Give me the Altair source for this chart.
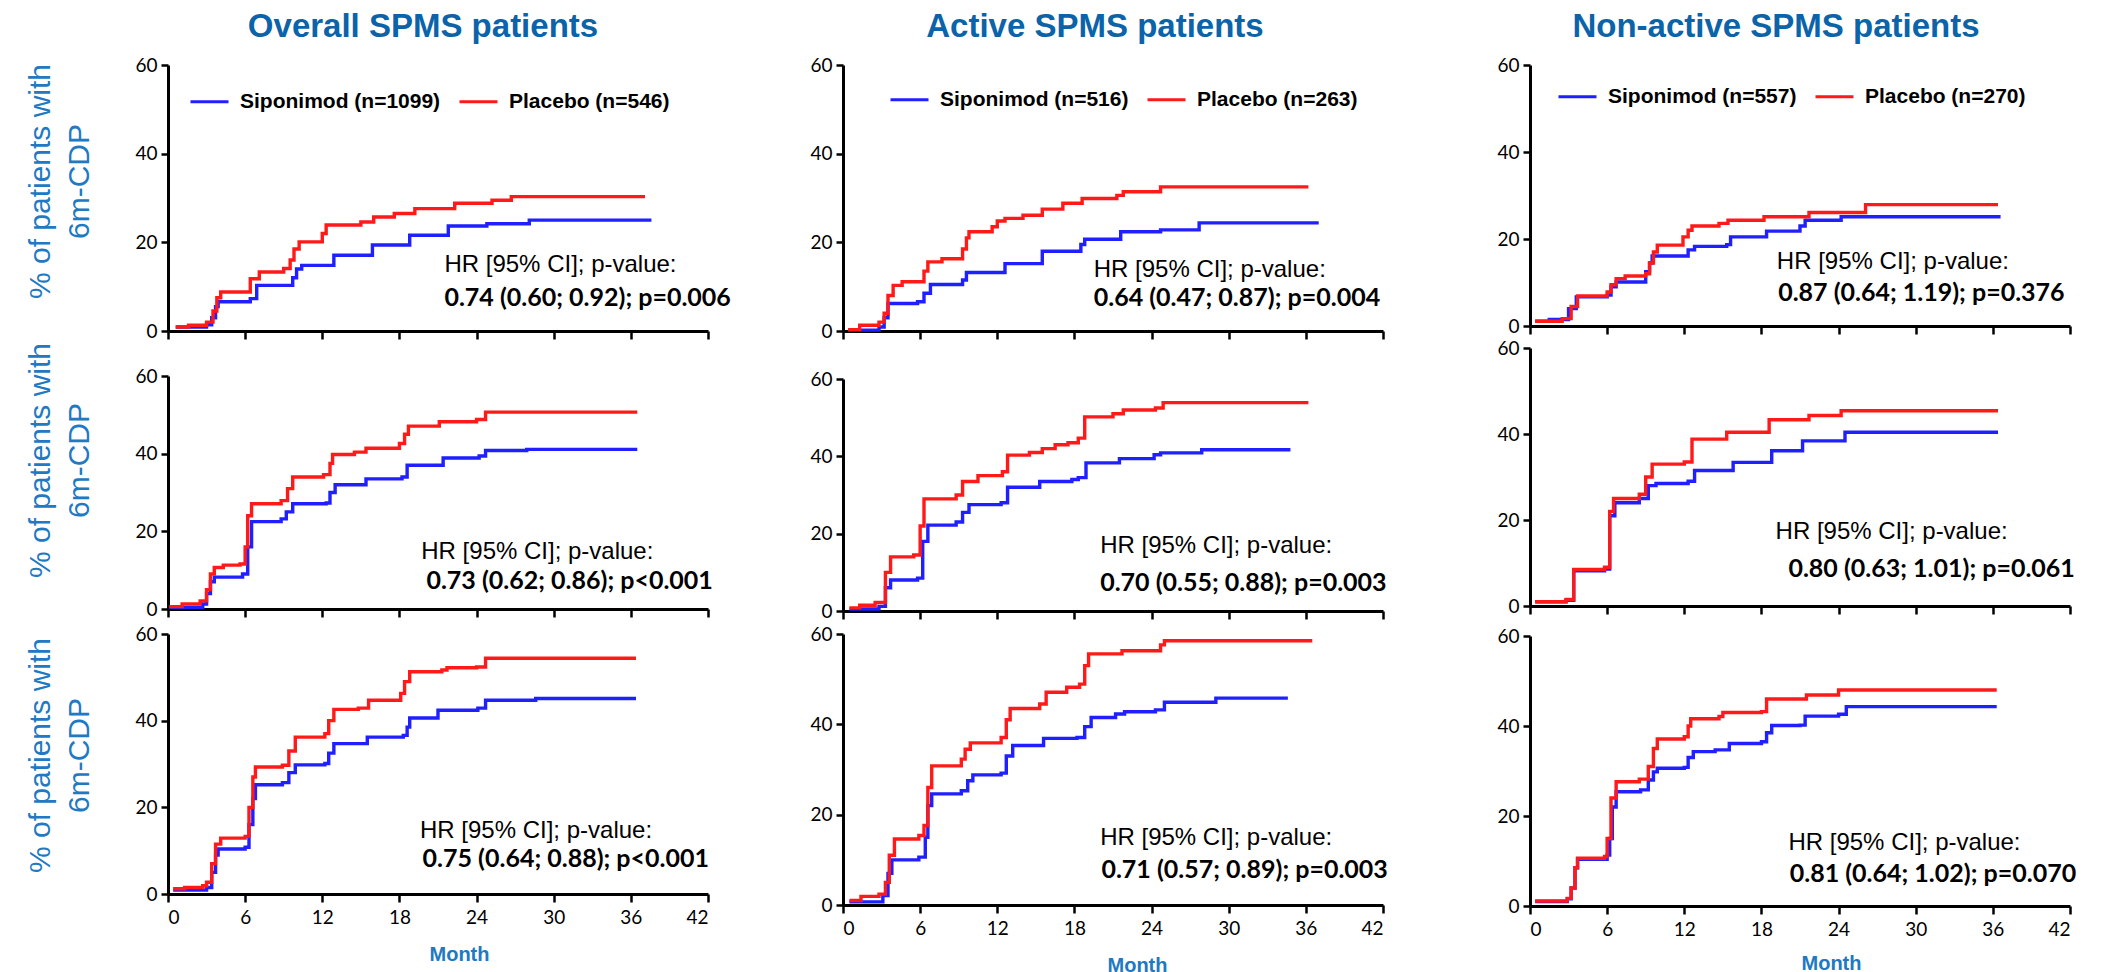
import altair as alt
import pandas as pd

# ---------------- data ----------------
col_titles = ["Overall SPMS patients", "Active SPMS patients", "Non-active SPMS patients"]
sip_labels = ["Siponimod (n=1099)", "Siponimod (n=516)", "Siponimod (n=557)"]
pla_labels = ["Placebo (n=546)", "Placebo (n=263)", "Placebo (n=270)"]
hr_header = "HR [95% CI]; p-value:"
hr_values = [
    ["0.74 (0.60; 0.92); p=0.006", "0.64 (0.47; 0.87); p=0.004", "0.87 (0.64; 1.19); p=0.376"],
    ["0.73 (0.62; 0.86); p<0.001", "0.70 (0.55; 0.88); p=0.003", "0.80 (0.63; 1.01); p=0.061"],
    ["0.75 (0.64; 0.88); p<0.001", "0.71 (0.57; 0.89); p=0.003", "0.81 (0.64; 1.02); p=0.070"],
]
month_ticks = [0, 6, 12, 18, 24, 30, 36, 42]
pct_ticks = [0, 20, 40, 60]

# row 1 (top), col 1 Overall
r1c1_pla_t = [0.6, 1.6, 3.0, 3.5, 3.8, 4.1, 6.4, 7.1, 9.0, 9.5, 9.8, 10.2, 12.0, 12.3, 15.0, 16.0, 17.6, 19.2, 22.3, 25.2, 26.7, 37.1]
r1c1_pla_v = [0.9, 1.3, 2.0, 4.5, 7.5, 8.8, 11.8, 13.3, 14.1, 16.0, 18.5, 20.1, 22.0, 23.9, 24.6, 25.7, 26.5, 27.6, 28.8, 29.5, 30.3, 30.3]
r1c1_sip_t = [0.6, 3.0, 3.4, 3.7, 3.9, 6.4, 6.9, 9.7, 10.0, 10.4, 12.9, 15.9, 18.8, 21.8, 24.8, 28.1, 37.6]
r1c1_sip_v = [0.9, 1.4, 3.0, 5.5, 6.6, 7.3, 10.3, 12.0, 14.0, 14.8, 17.1, 19.4, 21.6, 23.7, 24.2, 25.0, 25.0]
# row 1, col 2 Active
r1c2_pla_t = [0.4, 1.3, 2.8, 3.2, 3.5, 3.9, 4.6, 6.3, 6.6, 7.7, 9.3, 9.6, 9.8, 11.6, 12.0, 12.6, 14.0, 15.5, 17.1, 18.6, 21.3, 21.8, 24.7, 36.2]
r1c2_pla_v = [0.3, 1.3, 2.0, 4.0, 8.0, 10.3, 11.1, 13.5, 15.6, 16.3, 18.5, 21.0, 22.4, 23.5, 24.8, 25.4, 26.1, 27.5, 28.8, 29.9, 30.6, 31.4, 32.5, 32.5]
r1c2_sip_t = [0.4, 2.8, 3.2, 3.5, 5.8, 6.3, 6.8, 9.3, 9.6, 12.6, 15.5, 18.5, 18.8, 21.6, 24.7, 27.7, 37.0]
r1c2_sip_v = [0.2, 0.9, 3.0, 6.2, 6.6, 8.5, 10.5, 11.5, 13.2, 15.2, 18.0, 19.5, 20.7, 22.4, 22.8, 24.4, 24.4]
# row 1, col 3 Non-active
r1c3_pla_t = [0.4, 2.5, 3.2, 3.7, 6.0, 6.3, 6.7, 7.4, 9.0, 9.3, 9.6, 9.9, 11.9, 12.3, 12.6, 14.7, 15.4, 18.2, 21.7, 26.1, 36.4]
r1c3_pla_v = [1.1, 1.7, 4.5, 6.9, 7.8, 9.5, 10.9, 11.5, 12.0, 14.5, 17.0, 18.6, 20.5, 22.0, 23.0, 23.6, 24.3, 25.1, 26.1, 27.9, 27.9]
r1c3_sip_t = [0.4, 1.5, 3.0, 3.6, 6.0, 6.3, 6.7, 9.0, 9.3, 9.5, 12.3, 12.8, 15.3, 15.6, 18.4, 21.0, 21.4, 24.2, 36.6]
r1c3_sip_v = [1.1, 1.5, 4.0, 6.7, 7.1, 9.0, 10.1, 12.5, 14.5, 16.1, 17.5, 18.3, 18.7, 20.5, 21.8, 23.0, 24.3, 25.1, 25.1]

# row 2, col 1
r2c1_pla_t = [0.1, 1.1, 2.5, 3.0, 3.3, 3.6, 4.3, 5.6, 6.0, 6.2, 6.5, 8.8, 9.3, 9.7, 12.1, 12.6, 12.8, 14.5, 15.4, 18.0, 18.4, 18.7, 21.1, 24.0, 24.7, 36.5]
r2c1_pla_v = [0.6, 1.3, 2.1, 5.0, 9.0, 10.7, 11.3, 11.6, 16.0, 24.0, 27.1, 27.9, 31.0, 34.0, 34.6, 37.5, 39.8, 40.4, 41.4, 42.6, 45.0, 47.1, 48.2, 48.8, 50.7, 50.7]
r2c1_sip_t = [0.1, 2.7, 3.0, 3.3, 3.6, 5.8, 6.2, 6.5, 8.8, 9.2, 9.7, 12.3, 12.6, 13.0, 15.4, 18.2, 18.6, 21.4, 24.2, 24.7, 27.9, 36.5]
r2c1_sip_v = [0.4, 1.3, 4.0, 7.0, 8.2, 9.0, 16.0, 22.5, 23.2, 25.0, 27.1, 27.3, 30.0, 32.0, 33.5, 34.0, 37.0, 38.9, 39.4, 40.8, 41.1, 41.1]
# row 2, col 2
r2c2_pla_t = [0.5, 1.3, 2.5, 3.3, 3.7, 5.5, 6.0, 6.3, 8.8, 9.3, 10.5, 12.4, 12.8, 14.5, 15.5, 16.5, 17.5, 18.3, 18.8, 21.0, 21.8, 24.3, 24.9, 36.2]
r2c2_pla_v = [0.8, 1.5, 2.2, 10.0, 14.0, 14.5, 22.0, 29.0, 30.0, 33.5, 35.0, 36.0, 40.3, 41.0, 42.0, 43.0, 43.5, 44.7, 50.2, 51.0, 52.0, 52.5, 53.9, 53.9]
r2c2_sip_t = [0.5, 2.8, 3.3, 3.7, 5.8, 6.2, 6.6, 8.8, 9.3, 9.8, 12.3, 12.8, 15.3, 17.8, 18.3, 18.9, 21.5, 24.2, 24.7, 27.9, 34.8]
r2c2_sip_v = [0.5, 1.2, 6.0, 8.0, 8.5, 18.0, 22.2, 23.0, 25.5, 27.5, 28.0, 32.0, 33.5, 34.0, 34.5, 38.3, 39.4, 40.4, 40.9, 41.7, 41.7]
# row 2, col 3
r2c3_pla_t = [0.4, 2.8, 3.4, 5.8, 6.2, 6.5, 8.5, 9.0, 9.5, 12.0, 12.6, 15.3, 18.6, 21.7, 24.2, 36.4]
r2c3_pla_v = [1.0, 1.5, 8.5, 9.0, 22.0, 25.0, 26.0, 30.0, 33.0, 33.5, 38.8, 40.4, 43.3, 44.3, 45.4, 45.4]
r2c3_sip_t = [0.4, 2.8, 3.4, 5.8, 6.2, 6.6, 8.5, 9.2, 9.8, 12.3, 12.8, 15.8, 18.8, 21.2, 24.5, 36.4]
r2c3_sip_v = [1.0, 1.3, 8.2, 8.6, 21.0, 24.0, 25.0, 28.0, 28.5, 29.0, 31.5, 33.4, 36.1, 38.4, 40.4, 40.4]

# row 3, col 1
r3c1_pla_t = [0.4, 1.3, 2.7, 3.0, 3.4, 3.7, 4.1, 6.0, 6.3, 6.6, 6.8, 8.9, 9.4, 9.9, 12.2, 12.5, 12.9, 14.8, 15.6, 18.1, 18.4, 18.8, 21.3, 21.7, 24.0, 24.7, 36.4]
r3c1_pla_v = [1.2, 1.5, 1.9, 2.7, 7.0, 11.5, 12.9, 13.3, 20.0, 27.0, 29.3, 29.7, 33.0, 36.2, 37.0, 40.0, 42.6, 42.9, 44.7, 46.3, 49.0, 51.3, 51.7, 52.2, 52.4, 54.4, 54.4]
r3c1_sip_t = [0.4, 3.0, 3.4, 3.7, 3.9, 6.0, 6.3, 6.6, 6.8, 8.9, 9.4, 9.9, 12.2, 12.5, 12.9, 15.5, 18.3, 18.6, 18.8, 21.0, 24.1, 24.7, 28.6, 36.4]
r3c1_sip_v = [0.9, 1.5, 5.0, 9.0, 10.4, 10.8, 16.0, 22.0, 25.2, 25.7, 28.0, 29.8, 30.1, 32.5, 34.7, 36.2, 36.6, 38.5, 40.6, 42.4, 42.9, 44.7, 45.1, 45.1]
# row 3, col 2
r3c2_pla_t = [0.5, 1.4, 2.8, 3.3, 3.6, 4.0, 5.9, 6.3, 6.6, 6.9, 9.2, 9.5, 9.9, 12.3, 12.7, 13.0, 15.3, 15.8, 17.4, 18.4, 18.8, 19.1, 21.7, 24.7, 25.0, 36.5]
r3c2_pla_v = [1.0, 1.9, 2.4, 5.0, 11.0, 14.6, 15.4, 17.6, 26.0, 30.8, 32.3, 34.5, 35.9, 37.1, 41.0, 43.5, 44.5, 47.1, 48.2, 48.9, 53.0, 55.6, 56.3, 57.6, 58.5, 58.5]
r3c2_sip_t = [0.5, 3.1, 3.5, 3.8, 5.9, 6.4, 6.6, 6.9, 9.2, 9.7, 10.1, 12.3, 12.7, 13.2, 15.6, 18.2, 18.8, 19.3, 21.2, 21.9, 24.3, 25.0, 29.0, 34.6]
r3c2_sip_v = [0.7, 2.1, 7.0, 10.0, 10.6, 15.0, 22.0, 24.6, 25.3, 27.5, 28.8, 29.2, 33.0, 35.3, 36.9, 37.1, 39.5, 41.5, 42.3, 42.8, 43.2, 44.9, 45.8, 45.8]
# row 3, col 3
r3c3_pla_t = [0.4, 2.9, 3.2, 3.5, 3.7, 5.8, 6.0, 6.3, 6.7, 8.5, 9.2, 9.6, 9.9, 12.0, 12.3, 12.5, 14.7, 15.0, 18.0, 18.4, 21.5, 24.0, 36.3]
r3c3_pla_v = [1.1, 1.7, 4.0, 8.5, 10.6, 11.0, 15.0, 24.0, 27.6, 28.2, 31.0, 35.0, 37.1, 37.6, 40.0, 41.6, 42.1, 43.0, 43.2, 46.0, 46.9, 48.0, 48.0]
r3c3_sip_t = [0.4, 2.9, 3.2, 3.5, 3.7, 6.0, 6.2, 6.4, 6.7, 8.6, 9.2, 9.6, 9.9, 12.0, 12.3, 12.7, 14.4, 15.5, 18.0, 18.4, 18.8, 21.0, 21.4, 24.0, 24.6, 36.3]
r3c3_sip_v = [1.0, 1.6, 4.0, 8.5, 10.4, 11.3, 15.0, 22.0, 25.4, 25.8, 28.0, 29.8, 30.6, 30.8, 33.0, 34.3, 34.7, 36.1, 36.5, 38.5, 40.1, 40.2, 42.2, 42.6, 44.3, 44.3]

curves = [
    [(r1c1_sip_t, r1c1_sip_v, r1c1_pla_t, r1c1_pla_v), (r1c2_sip_t, r1c2_sip_v, r1c2_pla_t, r1c2_pla_v), (r1c3_sip_t, r1c3_sip_v, r1c3_pla_t, r1c3_pla_v)],
    [(r2c1_sip_t, r2c1_sip_v, r2c1_pla_t, r2c1_pla_v), (r2c2_sip_t, r2c2_sip_v, r2c2_pla_t, r2c2_pla_v), (r2c3_sip_t, r2c3_sip_v, r2c3_pla_t, r2c3_pla_v)],
    [(r3c1_sip_t, r3c1_sip_v, r3c1_pla_t, r3c1_pla_v), (r3c2_sip_t, r3c2_sip_v, r3c2_pla_t, r3c2_pla_v), (r3c3_sip_t, r3c3_sip_v, r3c3_pla_t, r3c3_pla_v)],
]

# ---------------- layout / style ----------------
BLUE = "#1f1fff"
RED = "#ff1a1a"
TITLE_BLUE = "#0b63a9"
LABEL_BLUE = "#2079c2"
PANEL_W = 540
PANEL_H = [[266, 266, 261], [233, 232, 258], [260, 271, 270]]
ROW_GAP = [[45, 48, 22], [25, 23, 30]]
COL_SPACING = [78, 108]
TITLE_DX = [-15, -18, -24]
LEGEND_XY = [(21, 16), (46, 14), (27, 11)]
YTITLE_Y = [116, 84, 121]
MONTH_TITLE = [(291, 60), (294, 60), (301, 57)]
# annotation anchor points in data units: (x header, y header, x value, y value)
HR_POS = [
    [(21.5, 15.0, 21.5, 7.4), (19.5, 13.7, 19.5, 7.4), (19.2, 14.6, 19.3, 7.5)],
    [(19.7, 14.7, 20.1, 7.2), (20.0, 16.8, 20.0, 7.2), (19.1, 17.2, 20.1, 8.6)],
    [(19.6, 14.5, 19.8, 8.1), (20.0, 14.8, 20.1, 7.7), (20.1, 14.0, 20.2, 7.1)],
]


def panel(r, c):
    sip_t, sip_v, pla_t, pla_v = curves[r][c]
    sip, pla = sip_labels[c], pla_labels[c]
    df = pd.DataFrame({
        "month": list(sip_t) + list(pla_t),
        "pct": list(sip_v) + list(pla_v),
        "group": [sip] * len(sip_t) + [pla] * len(pla_t),
    })
    last = r == 2
    xaxis_kw = dict(values=month_ticks, labels=last, ticks=True, tickSize=8,
                    labelPadding=6)
    if last:
        xaxis_kw.update(title="Month", titleFont="Liberation Sans", titleFontSize=20,
                        titleFontWeight="bold", titleColor=LABEL_BLUE,
                        titleX=MONTH_TITLE[c][0], titleY=MONTH_TITLE[c][1],
                        titleAlign="center", titleBaseline="middle")
    else:
        xaxis_kw.update(title=None)
    yaxis_kw = dict(values=pct_ticks, tickSize=7, labelPadding=4)
    if c == 0:
        yaxis_kw.update(title=["% of patients with", "6m-CDP"], titleFont="Liberation Sans",
                        titleFontSize=30, titleFontWeight="normal", titleColor=LABEL_BLUE,
                        titleAngle=270, titleX=-128, titleY=YTITLE_Y[r],
                        titleAlign="center", titleBaseline="middle", titleLineHeight=39)
    else:
        yaxis_kw.update(title=None)

    x = alt.X("month:Q", scale=alt.Scale(domain=[0, 42], nice=False), axis=alt.Axis(**xaxis_kw))
    y = alt.Y("pct:Q", scale=alt.Scale(domain=[0, 60], nice=False), axis=alt.Axis(**yaxis_kw))
    if r == 0:
        legend = alt.Legend(title=None, orient="none", legendX=LEGEND_XY[c][0], legendY=LEGEND_XY[c][1],
                            direction="horizontal", symbolType="stroke", symbolSize=1444,
                            symbolStrokeWidth=3, labelFont="Liberation Sans", labelFontSize=21,
                            labelFontWeight="bold", labelColor="black", columnPadding=12,
                            labelOffset=10, labelLimit=400, padding=0)
    else:
        legend = None
    color = alt.Color("group:N", scale=alt.Scale(domain=[sip, pla], range=[BLUE, RED]), legend=legend)

    base = alt.Chart(df)
    blue = base.transform_filter(alt.datum.group == sip).mark_line(
        interpolate="step-after", strokeWidth=3.4).encode(x=x, y=y, color=color)
    red = base.transform_filter(alt.datum.group == pla).mark_line(
        interpolate="step-after", strokeWidth=3.4).encode(x=x, y=y, color=color)

    hx1, hy1, hx2, hy2 = HR_POS[r][c]
    t1 = alt.Chart(pd.DataFrame({"month": [hx1], "pct": [hy1], "txt": [hr_header]})).mark_text(
        align="left", baseline="middle", font="Liberation Sans", fontSize=24, color="black"
    ).encode(x=x, y=y, text="txt:N")
    t2 = alt.Chart(pd.DataFrame({"month": [hx2], "pct": [hy2], "txt": [hr_values[r][c]]})).mark_text(
        align="left", baseline="middle", font="Lato", fontSize=25, fontWeight="bold", color="black"
    ).encode(x=x, y=y, text="txt:N")

    props = dict(width=PANEL_W, height=PANEL_H[r][c])
    if r == 0:
        props["title"] = alt.TitleParams(col_titles[c], font="Liberation Sans", fontSize=33,
                                         fontWeight="bold", color=TITLE_BLUE, anchor="middle",
                                         frame="group", baseline="bottom", offset=-21, dx=TITLE_DX[c])
    return alt.layer(blue, red, t1, t2).properties(**props)


def spacer(h):
    return alt.Chart(pd.DataFrame({"s": [0]})).mark_point(opacity=0).encode(
        x=alt.X("s:Q", axis=None), y=alt.Y("s:Q", axis=None)
    ).properties(width=PANEL_W, height=h)


def indep(ch):
    return ch.resolve_scale(x="independent", y="independent", color="independent").resolve_legend(
        color="independent")


cols = []
for c in range(3):
    cols.append(indep(alt.vconcat(panel(0, c), spacer(ROW_GAP[0][c]), panel(1, c),
                                  spacer(ROW_GAP[1][c]), panel(2, c), spacing=0, bounds="flush")))

left2 = indep(alt.hconcat(cols[0], cols[1], spacing=COL_SPACING[0]))
chart = indep(alt.hconcat(left2, cols[2], spacing=COL_SPACING[1]))

chart = chart.properties(
    padding={"left": 16, "top": 3, "right": 5, "bottom": 5},
    background="white",
).configure_view(stroke=None).configure_axis(
    grid=False, domainColor="black", domainWidth=3, tickColor="black", tickWidth=2.5,
    labelFont="Lato", labelFontSize=19, labelColor="black",
)

chart.save("out.html", embed_options={"renderer": "svg", "actions": False})
